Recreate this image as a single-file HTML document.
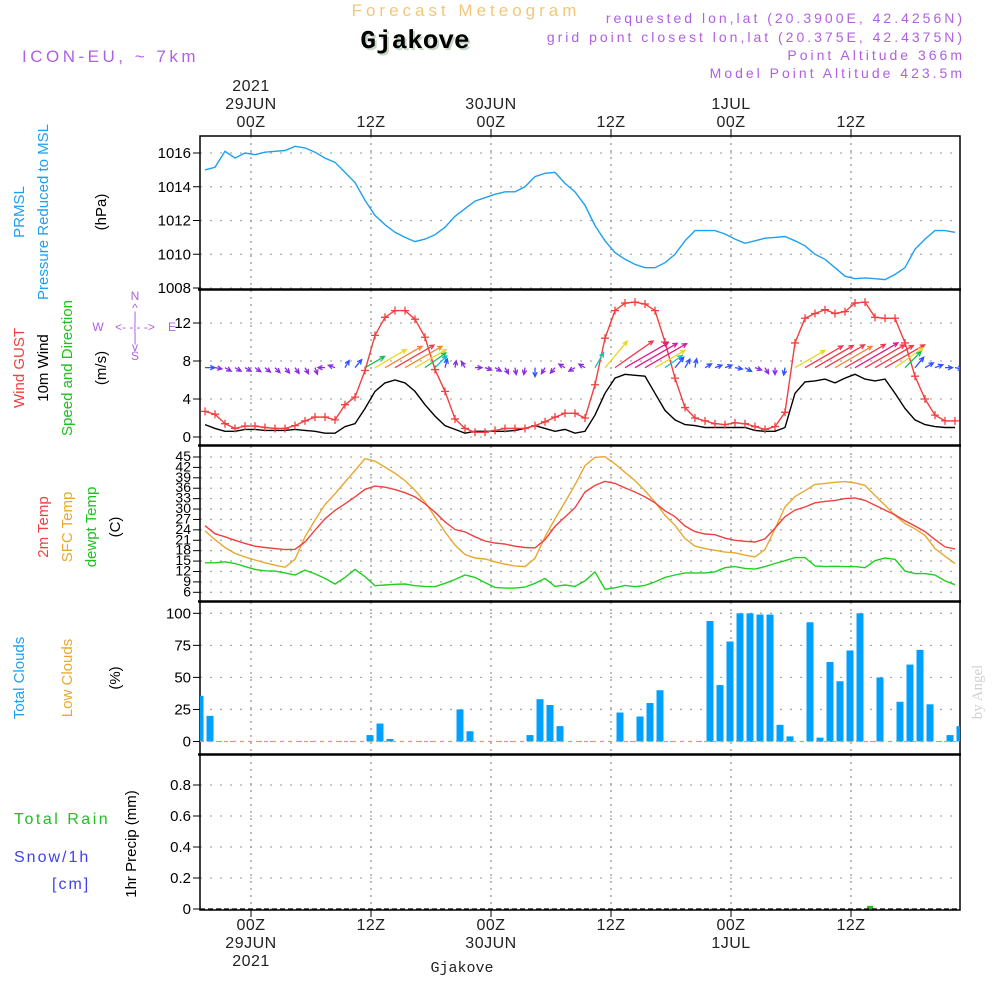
<!DOCTYPE html>
<html><head><meta charset="utf-8"><style>
html,body{margin:0;padding:0;background:#fff;}
svg{display:block;font-family:"Liberation Sans",sans-serif;}
</style></head><body>
<svg id="chart" width="1000" height="1000" viewBox="0 0 1000 1000" xmlns="http://www.w3.org/2000/svg">
<text x="466" y="16" text-anchor="middle" font-size="17" fill="#f0c878" letter-spacing="4">Forecast Meteogram</text>
<text x="417" y="50" text-anchor="middle" font-size="26" font-weight="bold" font-family="Liberation Mono, monospace" fill="#c8d8c8">Gjakove</text>
<text x="415" y="48" text-anchor="middle" font-size="26" font-weight="bold" font-family="Liberation Mono, monospace" fill="#000">Gjakove</text>
<text x="22" y="62" font-size="17" fill="#b060e0" letter-spacing="3.5">ICON-EU, ~ 7km</text>
<g font-size="14" fill="#b060e0" text-anchor="end" letter-spacing="3">
<text x="965" y="23">requested lon,lat (20.3900E, 42.4256N)</text>
<text x="965" y="42">grid point closest lon,lat (20.375E, 42.4375N)</text>
<text x="965" y="60">Point Altitude 366m</text>
<text x="965" y="78">Model Point Altitude 423.5m</text>
</g>
<g id="left-labels" font-size="15">
<text transform="translate(24,212) rotate(-90)" text-anchor="middle" fill="#1ea0f0">PRMSL</text>
<text transform="translate(48,212) rotate(-90)" text-anchor="middle" fill="#1ea0f0">Pressure Reduced to MSL</text>
<text transform="translate(106,212) rotate(-90)" text-anchor="middle" fill="#000">(hPa)</text>
<text transform="translate(24,368) rotate(-90)" text-anchor="middle" fill="#f04040">Wind GUST</text>
<text transform="translate(48,368) rotate(-90)" text-anchor="middle" fill="#000">10m Wind</text>
<text transform="translate(72,368) rotate(-90)" text-anchor="middle" fill="#20c020">Speed and Direction</text>
<text transform="translate(106,368) rotate(-90)" text-anchor="middle" fill="#000">(m/s)</text>
<text transform="translate(48,527) rotate(-90)" text-anchor="middle" fill="#f04040">2m Temp</text>
<text transform="translate(72,527) rotate(-90)" text-anchor="middle" fill="#e8a830">SFC Temp</text>
<text transform="translate(96,527) rotate(-90)" text-anchor="middle" fill="#20c020">dewpt Temp</text>
<text transform="translate(120,527) rotate(-90)" text-anchor="middle" fill="#000">(C)</text>
<text transform="translate(24,678) rotate(-90)" text-anchor="middle" fill="#1ea0f0">Total Clouds</text>
<text transform="translate(72,678) rotate(-90)" text-anchor="middle" fill="#e8a830">Low Clouds</text>
<text transform="translate(120,678) rotate(-90)" text-anchor="middle" fill="#000">(%)</text>
<text transform="translate(136,844) rotate(-90)" text-anchor="middle" fill="#000">1hr Precip (mm)</text>
<text x="14" y="824" fill="#20c020" font-size="16" letter-spacing="2.5">Total  Rain</text>
<text x="14" y="862" fill="#4040f0" font-size="16" letter-spacing="2">Snow/1h</text>
<text x="52" y="889" fill="#4040f0" font-size="16" letter-spacing="2">[cm]</text>
</g>
<g font-size="12" fill="#b060e0" text-anchor="middle">
<text x="135" y="300">N</text><text x="135" y="312">^</text><text x="135" y="320">|</text>
<text x="98" y="331">W</text><text x="135" y="331">&lt;- -|- -&gt;</text><text x="172" y="331">E</text>
<text x="135" y="342">|</text><text x="135" y="351">v</text><text x="135" y="360">S</text>
</g>
<text transform="translate(982,692) rotate(-90)" text-anchor="middle" font-size="15" font-family="Liberation Serif, serif" fill="#d0d0d0">by Angel</text>
<text x="462" y="972" text-anchor="middle" font-size="15" font-family="Liberation Mono, monospace" fill="#222">Gjakove</text>
<g id="plot"></g>
</svg>
<script>
const pressure=[1015.0,1015.15,1016.1,1015.7,1016.0,1015.9,1016.05,1016.1,1016.15,1016.4,1016.3,1016.05,1015.7,1015.45,1014.85,1014.25,1013.2,1012.3,1011.75,1011.3,1011.0,1010.75,1010.9,1011.15,1011.6,1012.25,1012.7,1013.15,1013.35,1013.55,1013.7,1013.7,1014.0,1014.6,1014.8,1014.85,1014.2,1013.7,1012.9,1011.7,1010.8,1010.1,1009.7,1009.4,1009.2,1009.2,1009.5,1010.0,1010.8,1011.4,1011.4,1011.4,1011.2,1010.9,1010.65,1010.8,1010.95,1011.0,1011.05,1010.8,1010.5,1010.0,1009.7,1009.2,1008.7,1008.55,1008.6,1008.55,1008.5,1008.8,1009.2,1010.3,1010.9,1011.4,1011.4,1011.3];
const gust=[2.7,2.4,1.4,0.9,1.15,1.15,1.0,0.9,0.9,1.2,1.7,2.1,2.1,1.8,3.4,4.2,7.0,10.7,12.6,13.3,13.3,12.4,10.5,7.1,4.8,1.9,0.9,0.5,0.5,0.7,0.9,0.9,0.9,1.2,1.6,2.1,2.5,2.5,2.0,5.5,10.4,13.3,14.1,14.2,14.0,13.3,10.0,6.2,3.1,2.0,1.7,1.4,1.3,1.5,1.4,1.1,0.8,1.1,2.6,9.9,12.5,13.0,13.4,13.0,13.2,14.1,14.2,12.6,12.5,12.5,9.9,6.4,4.0,2.3,1.7,1.7];
const wind=[1.3,0.9,0.6,0.6,0.8,0.8,0.7,0.7,0.7,0.8,0.7,0.6,0.4,0.4,1.1,1.4,3.0,4.8,5.7,6.0,5.7,4.8,3.4,2.2,1.2,0.8,0.4,0.6,0.6,0.6,0.6,0.7,0.9,1.2,0.9,0.6,0.8,0.4,0.6,2.3,4.6,6.2,6.6,6.5,6.4,4.6,2.8,1.8,1.3,1.2,1.0,1.0,1.0,1.0,1.0,0.7,0.6,0.6,1.0,4.6,5.8,5.9,6.1,5.7,6.2,6.6,6.1,5.9,6.1,4.6,3.0,1.8,1.3,1.1,1.0,1.0];
const windDir=[0,-10,-30,-30,-30,-35,-40,-45,-50,-55,-60,-70,180,160,60,50,30,30,30,30,30,30,35,45,75,80,120,0,-20,-30,-60,-80,-100,-90,-120,-130,150,-150,150,60,50,35,30,30,30,30,35,50,60,80,30,20,20,-10,-30,-20,-60,-90,-100,30,30,30,30,30,30,30,30,30,30,35,45,50,30,20,0,-10];
const t2m=[25.2,22.9,22.0,21.0,20.1,19.3,18.9,18.6,18.3,18.4,20.5,23.9,27.2,29.6,31.5,33.5,35.7,36.6,36.3,35.6,34.7,33.5,31.5,29.1,26.3,24.1,23.4,22.0,20.8,20.2,19.9,19.3,18.9,18.8,21.2,25.0,27.7,30.4,34.9,36.8,38.0,37.4,36.1,34.9,33.5,31.8,29.5,27.8,25.1,23.5,22.8,22.6,21.6,21.0,20.7,20.5,21.4,24.5,27.8,29.7,30.6,31.8,32.2,32.5,33.0,33.2,32.5,31.1,29.7,28.3,26.6,25.1,23.5,21.2,19.1,18.5];
const sfcTemp=[23.7,21.2,18.9,17.2,16.2,15.3,14.5,13.8,13.2,15.5,22.0,26.8,31.3,34.4,37.8,41.1,44.5,43.8,42.1,40.3,38.2,35.4,32.0,27.7,23.4,19.6,16.9,15.9,15.6,14.8,14.1,13.6,13.4,15.8,22.0,27.2,32.0,37.0,42.5,44.9,45.1,43.0,40.6,38.2,35.3,32.0,28.2,25.3,21.5,19.3,18.6,18.1,17.6,17.4,16.7,16.2,18.3,24.3,30.6,33.6,35.3,37.1,37.4,37.7,37.9,37.5,36.8,33.9,31.1,28.2,25.8,24.3,22.4,18.6,16.4,14.3];
const dewpt=[14.5,14.5,14.8,14.3,13.4,12.6,12.2,12.1,11.6,11.0,12.4,11.3,10.0,8.4,10.3,12.6,10.5,7.9,8.1,8.3,8.4,7.9,7.7,7.6,8.6,9.7,11.0,10.3,8.8,7.4,7.2,7.2,7.5,8.6,10.0,7.7,8.1,7.7,9.3,11.9,6.9,7.3,8.0,7.6,8.0,9.0,10.3,11.0,11.6,11.6,11.6,11.9,13.1,13.4,12.9,12.7,13.4,14.3,15.1,16.0,16.0,13.6,13.4,13.5,13.4,13.4,13.1,15.1,15.9,15.5,12.1,11.4,11.4,11.0,9.3,8.2];
const totalClouds=[35.6,20,0,0,0,0,0,0,0,0,0,0,0,0,0,0,0,5,14,2,0,0,0,0,0,0,25,8,0,0,0,0,0,5,33,28.5,12,0,0,0,0,0,22.6,0,19.5,30,40,0,0,0,0,94,44,78,100,100,99,99,13,4,0,93,3,62,47,71,100,0,50,0,31,60,71.5,29,0,5,12];
const lowClouds=totalClouds.map(()=>0);
const precip=[0,0,0,0,0,0,0,0,0,0,0,0,0,0,0,0,0,0,0,0,0,0,0,0,0,0,0,0,0,0,0,0,0,0,0,0,0,0,0,0,0,0,0,0,0,0,0,0,0,0,0,0,0,0,0,0,0,0,0,0,0,0,0,0,0,0,0,0.02,0,0,0,0,0,0,0,0,0];
const pressureTicks=[1008,1010,1012,1014,1016];
const windTicks=[0,4,8,12];
const tempTicks=[6,9,12,15,18,21,24,27,30,33,36,39,42,45];
const cloudTicks=[0,25,50,75,100];
const precipTicks=[0,0.2,0.4,0.6,0.8];
const timeTickHours=[0,12,24,36,48,60];
const topTimeLabels=[["2021","29JUN","00Z"],["12Z"],["30JUN","00Z"],["12Z"],["1JUL","00Z"],["12Z"]];
const bottomTimeLabels=[["00Z","29JUN","2021"],["12Z"],["00Z","30JUN"],["12Z"],["00Z","1JUL"],["12Z"]];

const NS='http://www.w3.org/2000/svg';
const plot=document.getElementById('plot');
const L=200,R=960;
function mk(tag,attrs,name,parent){
  const el=document.createElementNS(NS,tag);
  for(const k in attrs) el.setAttribute(k,attrs[k]);
  
  
  (parent||plot).appendChild(el);
  return el;
}
const xHour=h=>251+10*h;
const xi=i=>xHour(i-4.6);
const xb=j=>xHour(j-5.1);
function lin(v0,y0,v1,y1){return v=>y0+(v-v0)*(y1-y0)/(v1-v0);}
const panels=[
 {top:136,bot:289,y:lin(1008,288,1016,153),ticks:pressureTicks,name:'pressure'},
 {top:290,bot:445,y:lin(0,437,12,323),ticks:windTicks,name:'wind'},
 {top:446,bot:601,y:lin(6,592.3,45,457),ticks:tempTicks,name:'temp'},
 {top:602,bot:754,y:lin(0,741.5,100,613.3),ticks:cloudTicks,name:'clouds'},
 {top:755,bot:910,y:lin(0,909,0.8,785),ticks:precipTicks,name:'precip'}
];
const clip=mk('clipPath',{id:'pc'},'plot-clip');
mk('rect',{x:L,y:136,width:R-L,height:774},'plot-clip-rect',clip);

panels.forEach(p=>{
  const g=mk('g',{},p.name+'-panel');
  p.ticks.forEach(t=>{
    const y=p.y(t);
    mk('line',{x1:L,x2:R,y1:y,y2:y,stroke:'#aaa','stroke-width':1.3,'stroke-dasharray':'2 8'},p.name+'-gridline',g);
    mk('line',{x1:L-7,x2:L,y1:y,y2:y,stroke:'#000','stroke-width':1},p.name+'-tick',g);
    const tx=mk('text',{x:L-9,y:y+(p.name==='temp'?4:5),'text-anchor':'end','font-size':p.name==='temp'?14:15,fill:'#000'},p.name+'-tick-label',g);
    tx.textContent=(p.name==='precip'&&t===0)?'0':String(t);
  });
  timeTickHours.forEach(h=>{
    mk('line',{x1:xHour(h),x2:xHour(h),y1:p.top,y2:p.bot,stroke:'#999','stroke-width':1.3,'stroke-dasharray':'2 5'},p.name+'-vgrid',g);
  });
});
mk('rect',{x:L,y:136,width:R-L,height:774,fill:'none',stroke:'#000','stroke-width':1.5},'plot-frame');
[289.5,445.5,601.5,754.5].forEach(y=>mk('line',{x1:L-2,x2:R+1,y1:y,y2:y,stroke:'#000','stroke-width':2.5},'panel-separator'));
timeTickHours.forEach((h,k)=>{
  const x=xHour(h);
  mk('line',{x1:x,x2:x,y1:129,y2:136,stroke:'#000'},'top-time-tick');
  mk('line',{x1:x,x2:x,y1:910,y2:917,stroke:'#000'},'bottom-time-tick');
  const tl=topTimeLabels[k];
  tl.forEach((s,r)=>{
    const t=mk('text',{x:x,y:127-(tl.length-1-r)*18,'text-anchor':'middle','font-size':16,fill:'#222','letter-spacing':0.5},'top-time-label');
    t.textContent=s;
  });
  bottomTimeLabels[k].forEach((s,r)=>{
    const t=mk('text',{x:x,y:930+r*18,'text-anchor':'middle','font-size':16,fill:'#222','letter-spacing':0.5},'bottom-time-label');
    t.textContent=s;
  });
});
function line(arr,yf,color,name,w,xf){
  const d=arr.map((v,i)=>(i?'L':'M')+(xf||xi)(i).toFixed(1)+' '+yf(v).toFixed(1)).join(' ');
  return mk('path',{d:d,fill:'none',stroke:color,'stroke-width':w||1.4,'clip-path':'url(#pc)'},name);
}
const P=panels;
line(pressure,P[0].y,'#1ea0f0','pressure-line');
line(wind,P[1].y,'#000','wind-speed-line');
line(gust,P[1].y,'#f04040','wind-gust-line');
gust.forEach((v,i)=>{
  const x=xi(i),y=P[1].y(v);
  mk('path',{d:`M${x-4} ${y}H${x+4}M${x} ${y-4}V${y+4}`,stroke:'#f04040','stroke-width':1.3},'gust-marker');
});
function arrowColor(s){
  if(s<1)return '#8a2be2'; if(s<2)return '#3050ff'; if(s<3)return '#10c0c0';
  if(s<4)return '#10c050'; if(s<5)return '#e8d820'; if(s<5.8)return '#f08830';
  if(s<6.3)return '#f03848'; return '#e01890';
}
const arrowBase=P[1].y(7.3);
wind.forEach((s,i)=>{
  const a=windDir[i]*Math.PI/180, len=Math.max(7,7.5*s);
  const x0=xi(i), y0=arrowBase, x1=x0+len*Math.cos(a), y1=y0-len*Math.sin(a);
  const hl=5, b1=a+Math.PI-0.45, b2=a+Math.PI+0.45;
  const c=arrowColor(s);
  mk('path',{d:`M${x0.toFixed(1)} ${y0}L${x1.toFixed(1)} ${y1.toFixed(1)}M${(x1+hl*Math.cos(b1)).toFixed(1)} ${(y1-hl*Math.sin(b1)).toFixed(1)}L${x1.toFixed(1)} ${y1.toFixed(1)}L${(x1+hl*Math.cos(b2)).toFixed(1)} ${(y1-hl*Math.sin(b2)).toFixed(1)}`,stroke:c,'stroke-width':1.3,fill:'none','clip-path':'url(#pc)'},'wind-arrow');
});
line(sfcTemp,P[2].y,'#e8a830','sfc-temp-line');
line(t2m,P[2].y,'#f04040','t2m-line');
line(dewpt,P[2].y,'#20d020','dewpt-line');
totalClouds.forEach((v,j)=>{
  if(v<=0)return;
  const y=P[3].y(v);
  mk('rect',{x:xb(j)-3.5,y:y,width:7,height:P[3].y(0)-y,fill:'#00a0ff','clip-path':'url(#pc)'},'cloud-bar');
});
line(lowClouds,P[3].y,'#e8a830','low-clouds-line',1.2,xb).setAttribute('stroke-dasharray','4 4');
precip.forEach((v,j)=>{
  if(v<=0)return;
  const y=P[4].y(v);
  mk('rect',{x:xb(j)-3,y:y,width:6,height:P[4].y(0)-y,fill:'#20c020'},'precip-bar');
});
line(precip.map(()=>0),P[4].y,'#000','precip-zero-line',1.2,xb).setAttribute('stroke-dasharray','5 3');
</script>
</body></html>
